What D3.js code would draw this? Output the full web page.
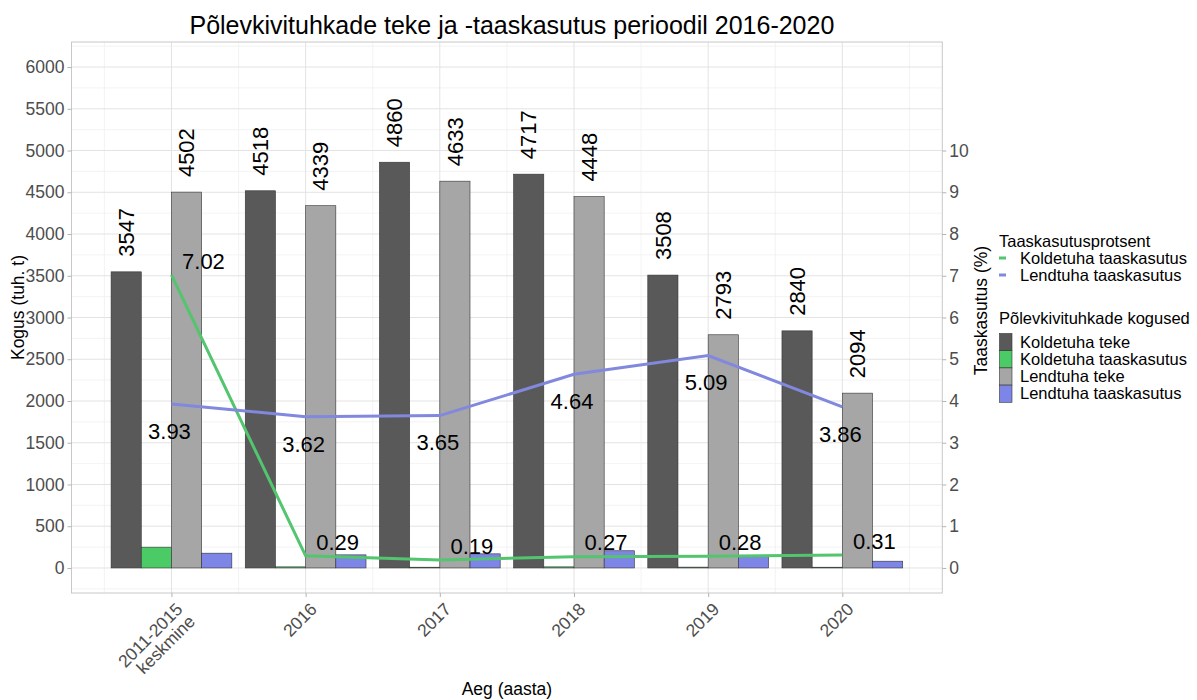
<!DOCTYPE html>
<html>
<head>
<meta charset="utf-8">
<script src="https://cdn.jsdelivr.net/npm/d3@7"></script>
<style>
  body { margin: 0; background: #fff; }
  svg text { font-family: "Liberation Sans", Arial, sans-serif; }
</style>
</head>
<body>
<script>
// values
var categories = ['2011-2015\nkeskmine', '2016', '2017', '2018', '2019', '2020'];
var koldTeke = [3547, 4518, 4860, 4717, 3508, 2840];
var koldTaaskasutus = [249, 13, 9, 13, 10, 9];
var lendTeke = [4502, 4339, 4633, 4448, 2793, 2094];
var lendTaaskasutus = [177, 157, 169, 206, 142, 81];
var koldPct = [7.02, 0.29, 0.19, 0.27, 0.28, 0.31];
var lendPct = [3.93, 3.62, 3.65, 4.64, 5.09, 3.86];
var leftTicks = [0, 500, 1000, 1500, 2000, 2500, 3000, 3500, 4000, 4500, 5000, 5500, 6000];
var rightTicks = [0, 1, 2, 3, 4, 5, 6, 7, 8, 9, 10];

var barSeries = [
  { name: 'Koldetuha teke', values: koldTeke, fill: '#595959', label: true },
  { name: 'Koldetuha taaskasutus', values: koldTaaskasutus, fill: '#4BCB66', label: false },
  { name: 'Lendtuha teke', values: lendTeke, fill: '#A6A6A6', label: true },
  { name: 'Lendtuha taaskasutus', values: lendTaaskasutus, fill: '#7D85E6', label: false }
];
var lineSeries = [
  { name: 'Koldetuha taaskasutus', values: koldPct, color: '#52C56E', dx: 32, dy: -14 },
  { name: 'Lendtuha taaskasutus', values: lendPct, color: '#8188DD', dx: -2, dy: 27 }
];

var W = 1197, H = 700;
var BAR_W = 0.225;
var TEXT_GREY = '#4D4D4D';
var LEGEND_FS = 16.5;

var svg = d3.select('body').append('svg')
  .attr('width', W)
  .attr('height', H);

var x = d3.scaleLinear().domain([0.255, 6.745]).range([71.5, 942.3]);
var y = d3.scaleLinear().domain([-300, 6300]).range([593, 42]);
var yPct = d3.scaleLinear().domain([-0.6, 12.6]).range([593, 42]);

// grid
var grid = svg.append('g');
grid.selectAll('line.minorY')
    .data([-250].concat(leftTicks.map(function(d) { return d + 250; })))
  .enter().append('line')
    .attr('x1', x.range()[0]).attr('x2', x.range()[1])
    .attr('y1', function(d) { return y(d); }).attr('y2', function(d) { return y(d); })
    .attr('stroke', '#F0F0F0').attr('stroke-width', 0.8);
grid.selectAll('line.minorX')
    .data([0.5, 1.5, 2.5, 3.5, 4.5, 5.5, 6.5])
  .enter().append('line')
    .attr('y1', y.range()[0]).attr('y2', y.range()[1])
    .attr('x1', function(d) { return x(d); }).attr('x2', function(d) { return x(d); })
    .attr('stroke', '#F0F0F0').attr('stroke-width', 0.8);
grid.selectAll('line.majorY')
    .data(leftTicks)
  .enter().append('line')
    .attr('x1', x.range()[0]).attr('x2', x.range()[1])
    .attr('y1', function(d) { return y(d); }).attr('y2', function(d) { return y(d); })
    .attr('stroke', '#E3E3E3').attr('stroke-width', 1);
grid.selectAll('line.majorX')
    .data(categories)
  .enter().append('line')
    .attr('y1', y.range()[0]).attr('y2', y.range()[1])
    .attr('x1', function(d, i) { return x(i + 1); }).attr('x2', function(d, i) { return x(i + 1); })
    .attr('stroke', '#E3E3E3').attr('stroke-width', 1);

// bars
barSeries.forEach(function(s, j) {
  svg.append('g').selectAll('rect')
      .data(s.values)
    .enter().append('rect')
      .attr('x', function(d, i) { return x(i + 1 + (j - 2) * BAR_W); })
      .attr('width', x(BAR_W) - x(0))
      .attr('y', function(d) { return y(d); })
      .attr('height', function(d) { return y(0) - y(d); })
      .attr('fill', s.fill)
      .attr('stroke', '#333')
      .attr('stroke-width', 0.6);
});

// lines
var line = d3.line()
  .x(function(d, i) { return x(i + 1); })
  .y(function(d) { return yPct(d); });
lineSeries.forEach(function(s) {
  svg.append('path')
    .attr('d', line(s.values))
    .attr('fill', 'none')
    .attr('stroke', s.color)
    .attr('stroke-width', 3);
});

// bar labels
barSeries.forEach(function(s, j) {
  if (!s.label) return;
  svg.append('g').selectAll('text')
      .data(s.values)
    .enter().append('text')
      .attr('transform', function(d, i) {
        return 'translate(' + x(i + 1 + (j - 1.5) * BAR_W) + ',' + (y(d) - 15) + ') rotate(-90)';
      })
      .attr('dy', '0.35em')
      .attr('font-size', 22)
      .attr('fill', '#000')
      .text(function(d) { return d; });
});

// line labels
lineSeries.forEach(function(s) {
  svg.append('g').selectAll('text')
      .data(s.values)
    .enter().append('text')
      .attr('x', function(d, i) { return x(i + 1) + s.dx; })
      .attr('y', function(d) { return yPct(d) + s.dy; })
      .attr('dy', '0.35em')
      .attr('text-anchor', 'middle')
      .attr('font-size', 22)
      .attr('fill', '#000')
      .text(function(d) { return d.toFixed(2); });
});

// panel border
svg.append('rect')
  .attr('x', x.range()[0]).attr('y', y.range()[1])
  .attr('width', x.range()[1] - x.range()[0])
  .attr('height', y.range()[0] - y.range()[1])
  .attr('fill', 'none')
  .attr('stroke', '#C8C8C8')
  .attr('stroke-width', 1);

// axes
function styleAxis(g) {
  g.select('.domain').remove();
  g.selectAll('.tick line').attr('stroke', '#B3B3B3');
  g.selectAll('.tick text')
    .attr('fill', TEXT_GREY)
    .attr('font-size', 17.5)
    .attr('font-family', '"Liberation Sans", Arial, sans-serif');
}
svg.append('g')
  .attr('transform', 'translate(' + x.range()[0] + ',0)')
  .call(d3.axisLeft(y).tickValues(leftTicks).tickFormat(d3.format('d')).tickSize(4).tickPadding(3))
  .call(styleAxis);
svg.append('g')
  .attr('transform', 'translate(' + x.range()[1] + ',0)')
  .call(d3.axisRight(yPct).tickValues(rightTicks).tickFormat(d3.format('d')).tickSize(4).tickPadding(3))
  .call(styleAxis);

svg.append('g')
  .attr('transform', 'translate(0,' + y.range()[0] + ')')
  .call(d3.axisBottom(x).tickValues([1, 2, 3, 4, 5, 6]).tickSize(4).tickFormat(''))
  .call(styleAxis);
svg.append('g').selectAll('text')
    .data(categories)
  .enter().append('text')
    .attr('transform', function(d, i) { return 'translate(' + (x(i + 1) + 3) + ',' + (y.range()[0] + 8) + ') rotate(-45)'; })
    .attr('text-anchor', 'end')
    .attr('fill', TEXT_GREY)
    .attr('font-size', 17.5)
    .each(function(d) {
      var t = d3.select(this);
      d.split('\n').forEach(function(part, k) {
        t.append('tspan').attr('x', 0).attr('dy', k === 0 ? '0.75em' : '1.0em').text(part);
      });
    });

// titles
svg.append('text')
  .attr('x', (x.range()[0] + x.range()[1]) / 2 + 5)
  .attr('y', 34)
  .attr('text-anchor', 'middle')
  .attr('font-size', 25)
  .attr('fill', '#000')
  .text('Põlevkivituhkade teke ja -taaskasutus perioodil 2016-2020');
svg.append('text')
  .attr('x', (x.range()[0] + x.range()[1]) / 2)
  .attr('y', 695)
  .attr('text-anchor', 'middle')
  .attr('font-size', 17.5)
  .attr('fill', '#000')
  .text('Aeg (aasta)');
svg.append('text')
  .attr('transform', 'translate(18,' + ((y.range()[0] + y.range()[1]) / 2 - 10) + ') rotate(-90)')
  .attr('text-anchor', 'middle')
  .attr('dy', '0.35em')
  .attr('font-size', 17.5)
  .attr('fill', '#000')
  .text('Kogus (tuh. t)');
svg.append('text')
  .attr('transform', 'translate(981,' + ((y.range()[0] + y.range()[1]) / 2 - 7) + ') rotate(-90)')
  .attr('text-anchor', 'middle')
  .attr('dy', '0.35em')
  .attr('font-size', 17.5)
  .attr('fill', '#000')
  .text('Taaskasutus (%)');

// legend
var legend = svg.append('g').attr('transform', 'translate(999,0)');
legend.append('text')
  .attr('x', 0).attr('y', 241).attr('dy', '0.35em')
  .attr('font-size', LEGEND_FS).text('Taaskasutusprotsent');
lineSeries.forEach(function(s, k) {
  var cy = 258 + k * 17;
  legend.append('line')
    .attr('x1', 0).attr('x2', 7).attr('y1', cy).attr('y2', cy)
    .attr('stroke', s.color).attr('stroke-width', 3);
  legend.append('text')
    .attr('x', 21).attr('y', cy).attr('dy', '0.35em')
    .attr('font-size', LEGEND_FS).text(s.name);
});
legend.append('text')
  .attr('x', 0).attr('y', 318).attr('dy', '0.35em')
  .attr('font-size', LEGEND_FS).text('Põlevkivituhkade kogused');
barSeries.forEach(function(s, k) {
  var top = 333.5 + k * 17.2;
  legend.append('rect')
    .attr('x', 0.5).attr('y', top).attr('width', 12.5).attr('height', 17.2)
    .attr('fill', s.fill).attr('stroke', '#333').attr('stroke-width', 0.6);
  legend.append('text')
    .attr('x', 21).attr('y', top + 8.6).attr('dy', '0.35em')
    .attr('font-size', LEGEND_FS).text(s.name);
});
</script>
</body>
</html>
